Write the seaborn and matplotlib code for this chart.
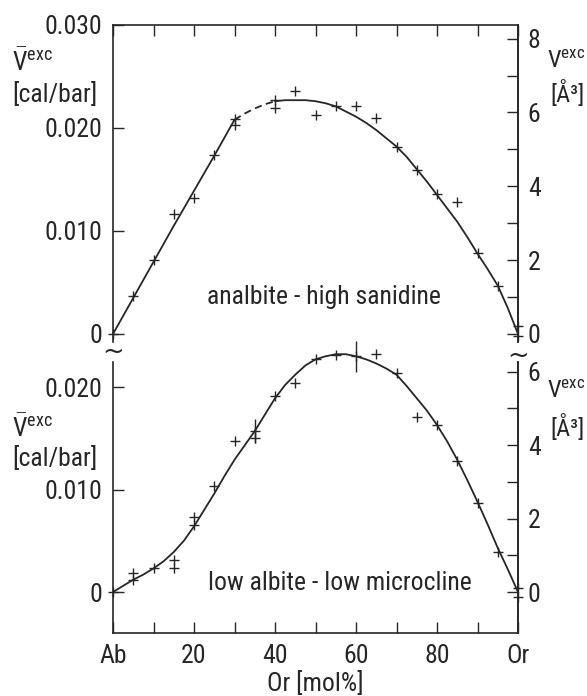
import matplotlib
matplotlib.use("Agg")
import matplotlib.pyplot as plt
from matplotlib import font_manager as fm
from matplotlib.ticker import FixedLocator, FixedFormatter
import numpy as np
import pandas as pd
import seaborn as sns

# ---------------- data ----------------
# upper panel: analbite - high sanidine
top_pts_x = [0, 5, 10, 15, 20, 25, 30, 30, 40, 40, 45, 50, 55, 60, 65, 70, 75, 80, 85, 90, 95, 100, 100]
top_pts_v = [0.0, 0.0037, 0.0072, 0.0116, 0.0132, 0.0174, 0.0209, 0.0203, 0.0227, 0.0219, 0.0236,
             0.0213, 0.0221, 0.0221, 0.0210, 0.0182, 0.0159, 0.0136, 0.0128, 0.0079, 0.0047, 0.0008, -0.0002]
top_fit_a_x = [0, 5, 10, 15, 20, 25, 30]
top_fit_a_v = [0.0, 0.0035, 0.0070, 0.0105, 0.0139, 0.0173, 0.0208]
top_fit_dash_x = [30, 32.5, 35, 37.5, 40]
top_fit_dash_v = [0.0208, 0.0214, 0.0219, 0.0223, 0.0226]
top_fit_b_x = [40, 42.5, 45, 47.5, 50, 52.5, 55, 57.5, 60, 62.5, 65, 67.5, 70, 72.5, 75, 77.5,
               80, 82.5, 85, 87.5, 90, 92.5, 95, 97.5, 100]
top_fit_b_v = [0.0226, 0.0227, 0.0227, 0.0227, 0.0226, 0.0224, 0.0221, 0.0216, 0.0211, 0.0205,
               0.0198, 0.0190, 0.0182, 0.0172, 0.0160, 0.0148, 0.0135, 0.0122, 0.0109, 0.0094,
               0.0078, 0.0063, 0.0047, 0.0025, 0.0]

# lower panel: low albite - low microcline
bot_pts_x = [0, 5, 5, 10, 15, 15, 20, 20, 25, 30, 35, 35, 40, 45, 50, 55, 60, 65, 70, 75, 80, 85, 90, 95, 100, 100]
bot_pts_v = [0.0, 0.0019, 0.0012, 0.0023, 0.0031, 0.0023, 0.0073, 0.0065, 0.0103, 0.0147, 0.0157, 0.0150,
             0.0191, 0.0204, 0.0227, 0.0231, 0.0230, 0.0232, 0.0214, 0.0171, 0.0163, 0.0128, 0.0087, 0.0039,
             0.0004, -0.0005]
bot_pts_err = [0, 0, 0, 0, 0, 0, 0, 0, 0, 0, 0.0012, 0, 0, 0, 0, 0, 0.0015, 0, 0, 0, 0, 0, 0, 0, 0, 0]
bot_fit_x = [0, 2.5, 5, 7.5, 10, 12.5, 15, 17.5, 20, 22.5, 25, 27.5, 30, 32.5, 35, 37.5, 40, 42.5, 45,
             47.5, 50, 52.5, 55, 57.5, 60, 62.5, 65, 67.5, 70, 72.5, 75, 77.5, 80, 82.5, 85, 87.5,
             90, 92.5, 95, 97.5, 100]
bot_fit_v = [0.0, 0.0006, 0.0012, 0.0017, 0.0023, 0.0030, 0.0039, 0.0050, 0.0064, 0.0080, 0.0096,
             0.0113, 0.0129, 0.0143, 0.0157, 0.0173, 0.0189, 0.0202, 0.0212, 0.0221, 0.0227, 0.0230,
             0.0232, 0.0232, 0.0230, 0.0227, 0.0223, 0.0218, 0.0212, 0.0201, 0.0189, 0.0177, 0.0163,
             0.0147, 0.0129, 0.0109, 0.0088, 0.0066, 0.0043, 0.0022, 0.0]

x_tick_vals = [0, 20, 40, 60, 80, 100]
x_tick_labels = ["Ab", "20", "40", "60", "80", "Or"]
top_left_ticks = [0, 0.010, 0.020, 0.030]
top_left_labels = ["0", "0.010", "0.020", "0.030"]
bot_left_ticks = [0, 0.010, 0.020]
bot_left_labels = ["0", "0.010", "0.020"]
top_right_ticks = [0, 2, 4, 6, 8]
bot_right_ticks = [0, 2, 4, 6]

# ---------------- font selection (prefer a narrow face) ----------------
_entries = fm.fontManager.ttflist
_names = {f.name for f in _entries}
FAMILY, STRETCH = None, "normal"
for cand in ["Liberation Sans Narrow", "DejaVu Sans Condensed", "Roboto Condensed",
             "Open Sans Condensed", "Noto Sans Condensed", "Arial Narrow"]:
    if cand in _names:
        FAMILY = cand
        break
if FAMILY is None:
    for pref in ["DejaVu Sans", "Noto Sans", "Open Sans", "Roboto"]:
        if any(f.name == pref and str(f.stretch) in ("condensed", "semi-condensed") for f in _entries):
            FAMILY, STRETCH = pref, "condensed"
            break
if FAMILY is None:
    FAMILY = "Roboto" if "Roboto" in _names else "DejaVu Sans"

sns.set_theme(style="white")
plt.rcParams["font.family"] = [FAMILY, "DejaVu Sans"]
plt.rcParams["font.stretch"] = STRETCH
plt.rcParams["mathtext.fontset"] = "custom"
plt.rcParams["mathtext.rm"] = FAMILY
plt.rcParams["mathtext.it"] = FAMILY
INK = "#262626"
FS = 18.5

W, H = 587, 696
fig = plt.figure(figsize=(W / 100, H / 100), dpi=100)

def fx(px):
    return px / W

def fy(py):
    return 1 - py / H

ax_top = fig.add_axes([fx(113), fy(342), fx(518) - fx(113), fy(25) - fy(342)])
ax_bot = fig.add_axes([fx(113), fy(633), fx(518) - fx(113), fy(362) - fy(633)])

CONV = 279.0  # cal/bar -> A^3 per cell

def draw_fit(ax, xs, vs, ls):
    sns.lineplot(x=xs, y=vs, ax=ax, color=INK, linewidth=1.3, linestyle=ls, sort=False)

# top panel
draw_fit(ax_top, top_fit_a_x, top_fit_a_v, "-")
draw_fit(ax_top, top_fit_dash_x, top_fit_dash_v, (0, (4, 2.5)))
draw_fit(ax_top, top_fit_b_x, top_fit_b_v, "-")
sns.scatterplot(x=top_pts_x, y=top_pts_v, ax=ax_top, marker="+", s=60, color=INK, linewidth=1.0, zorder=3)

# bottom panel
draw_fit(ax_bot, bot_fit_x, bot_fit_v, "-")
sns.scatterplot(x=bot_pts_x, y=bot_pts_v, ax=ax_bot, marker="+", s=60, color=INK, linewidth=1.0, zorder=3)
dfe = pd.DataFrame({"x": bot_pts_x, "v": bot_pts_v, "e": bot_pts_err})
dfe = dfe[dfe["e"] > 0]
ax_bot.errorbar(dfe["x"], dfe["v"], yerr=dfe["e"], fmt="none", ecolor=INK, elinewidth=1.0, capsize=0)

for ax in (ax_top, ax_bot):
    for art in list(ax.lines) + list(ax.collections):
        art.set_clip_on(False)

# axes limits
for ax in (ax_top, ax_bot):
    ax.set_xlim(0, 100)
    ax.set_facecolor("none")
    for s in ax.spines.values():
        s.set_color(INK)
        s.set_linewidth(1.2)
ax_top.set_ylim(-0.00078, 0.030)
ax_bot.set_ylim(-0.0040, 0.02244)

ax_top.spines["bottom"].set_visible(False)
ax_bot.spines["top"].set_visible(False)

tick_kw = dict(direction="in", length=8, width=1.0, color=INK, labelsize=FS, labelcolor=INK)

# x ticks
ax_top.xaxis.set_major_locator(FixedLocator(list(range(0, 101, 10))))
ax_top.tick_params(axis="x", which="both", top=True, bottom=False, labeltop=False, labelbottom=False, **tick_kw)
ax_bot.xaxis.set_major_locator(FixedLocator(x_tick_vals))
ax_bot.xaxis.set_major_formatter(FixedFormatter(x_tick_labels))
ax_bot.xaxis.set_minor_locator(FixedLocator([10, 30, 50, 70, 90]))
ax_bot.tick_params(axis="x", which="both", top=False, bottom=True, pad=8, **tick_kw)
ax_bot.set_xlabel("Or [mol%]", fontsize=FS, color=INK, labelpad=2)

# left y ticks
ax_top.yaxis.set_major_locator(FixedLocator(top_left_ticks))
ax_top.yaxis.set_major_formatter(FixedFormatter(top_left_labels))
ax_bot.yaxis.set_major_locator(FixedLocator(bot_left_ticks))
ax_bot.yaxis.set_major_formatter(FixedFormatter(bot_left_labels))
for ax in (ax_top, ax_bot):
    ax.tick_params(axis="y", which="both", left=True, right=False, pad=8, **tick_kw)

# right axes (A^3)
for ax, ticks in ((ax_top, top_right_ticks), (ax_bot, bot_right_ticks)):
    sec = ax.secondary_yaxis("right", functions=(lambda v: v * CONV, lambda a: a / CONV))
    sec.yaxis.set_major_locator(FixedLocator(ticks))
    sec.yaxis.set_major_formatter(FixedFormatter([str(t) for t in ticks]))
    sec.yaxis.set_minor_locator(FixedLocator([t + 1 for t in ticks[:-1]]))
    sec.tick_params(axis="y", which="both", pad=7, **tick_kw)
    sec.spines["right"].set_color(INK)
    sec.spines["right"].set_linewidth(1.2)

# annotations inside panels
ax_top.text(52.2, 0.0036, "analbite - high sanidine", ha="center", va="center", fontsize=FS, color=INK)
ax_bot.text(55.9, 0.0009, "low albite - low microcline", ha="center", va="center", fontsize=FS, color=INK)

# axis titles
FS2 = 17.5
fig.text(fx(12), fy(62), r"$\bar{\mathrm{V}}^{\mathrm{exc}}$", fontsize=FS, color=INK, ha="left", va="center")
fig.text(fx(12), fy(95), "[cal/bar]", fontsize=FS, color=INK, ha="left", va="center")
fig.text(fx(12), fy(428), r"$\bar{\mathrm{V}}^{\mathrm{exc}}$", fontsize=FS, color=INK, ha="left", va="center")
fig.text(fx(12), fy(459), "[cal/bar]", fontsize=FS, color=INK, ha="left", va="center")
fig.text(fx(585), fy(62), r"$\mathrm{V}^{\mathrm{exc}}$", fontsize=FS2, color=INK, ha="right", va="center")
fig.text(fx(585), fy(93), "[Å³]", fontsize=FS2, color=INK, ha="right", va="center")
fig.text(fx(585), fy(392), r"$\mathrm{V}^{\mathrm{exc}}$", fontsize=FS2, color=INK, ha="right", va="center")
fig.text(fx(585), fy(428), "[Å³]", fontsize=FS2, color=INK, ha="right", va="center")

# axis break marks
fig.text(fx(113), fy(352), "~", fontsize=FS, color=INK, ha="center", va="center", family="DejaVu Sans")
fig.text(fx(518), fy(356), "~", fontsize=FS, color=INK, ha="center", va="center", family="DejaVu Sans")

fig.savefig("out.png", dpi=100, facecolor="white")
